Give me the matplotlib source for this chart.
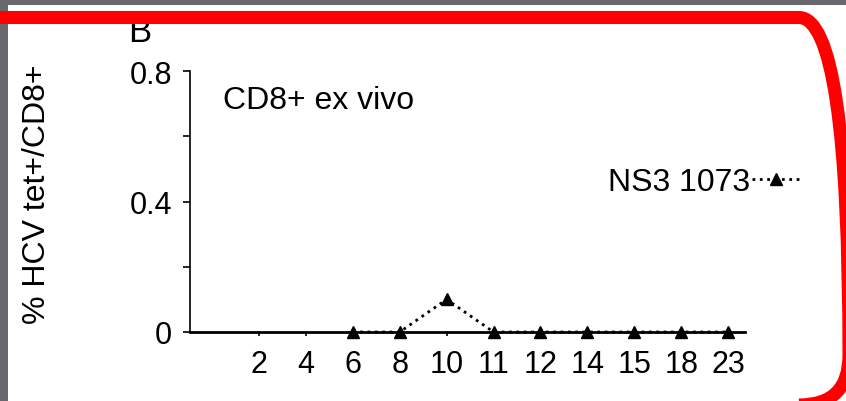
import numpy as np
import matplotlib.pyplot as plt
from matplotlib.patches import FancyBboxPatch, Rectangle

plt.rcParams['font.family'] = ['Liberation Sans', 'DejaVu Sans']

weeks = ["2", "4", "6", "8", "10", "11", "12", "14", "15", "18", "23"]
ns3_1073 = [np.nan, np.nan, 0, 0, 0.1, 0, 0, 0, 0, 0, 0]
yticks = [0, 0.4, 0.8]
ytick_labels = ["0", "0.4", "0.8"]

fig = plt.figure(figsize=(8.46, 4.02), dpi=100, facecolor="#69686d")

# white slide area (pixel units / 100 = inches)
fig.add_artist(Rectangle((0.08, 0), 8.46, 3.96, transform=fig.dpi_scale_trans,
                         facecolor="white", edgecolor="none", zorder=0))

ax = fig.add_axes([190/846, 69/402, 555/846, 261/402])
ax.set_facecolor("none")
x = np.arange(len(weeks))
ax.plot(x, ns3_1073, linestyle=":", color="black", linewidth=2,
        marker="^", markersize=8, clip_on=False, zorder=5, label="NS3 1073")

ax.set_xlim(-1.47, 10.36)
ax.set_ylim(0, 0.8)
ax.set_xticks(x)
ax.set_xticklabels(weeks, fontsize=22)
ax.set_yticks(yticks)
ax.set_yticks([0.2, 0.6], minor=True)
ax.set_yticklabels(ytick_labels, fontsize=22)
ax.tick_params(axis="y", which="both", direction="out", length=5, width=1.2, pad=8)
ax.tick_params(axis="x", direction="out", length=3, width=1.2, pad=9)
for s in ["top", "right"]:
    ax.spines[s].set_visible(False)
ax.spines["bottom"].set_linewidth(2)
ax.spines["left"].set_linewidth(1.2)

ax.set_ylabel("% HCV tet+/CD8+", fontsize=23)
ax.yaxis.set_label_coords(-138/555, 0.53)

ax.text(0.059, 0.889, "CD8+ ex vivo", transform=ax.transAxes, fontsize=23,
        ha="left", va="center")

ax.legend(loc="center right", bbox_to_anchor=(1.099, 0.575), frameon=False,
          markerfirst=False, fontsize=23, handlelength=1.5, handletextpad=0.05,
          borderaxespad=0, borderpad=0)

fig.text(140/846, 1 - 42/402, "B", fontsize=25, ha="center", va="baseline", zorder=1)

# red rounded frame
fig.add_artist(FancyBboxPatch((-1.0, -0.04), 9.49, 3.835 + 0.04,
                              boxstyle="round,pad=0,rounding_size=0.5",
                              transform=fig.dpi_scale_trans, facecolor="none",
                              edgecolor="#ff0000", linewidth=9.4, zorder=10))

plt.savefig("out.png", dpi=100, facecolor=fig.get_facecolor())
